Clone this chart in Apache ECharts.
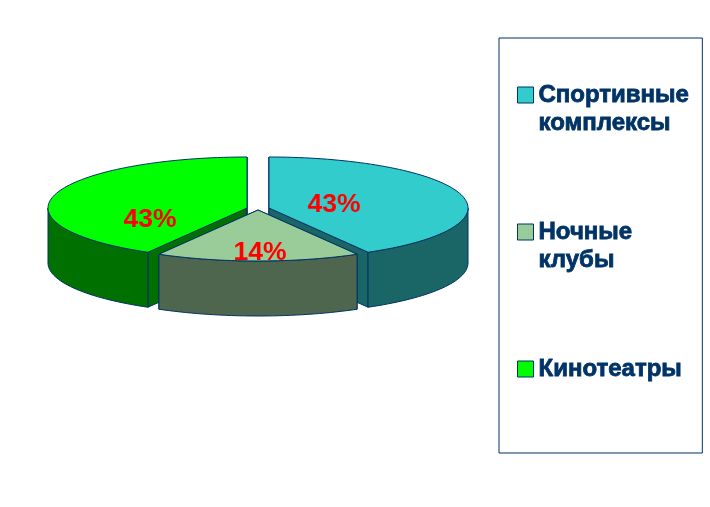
<!DOCTYPE html>
<html>
<head>
<meta charset="utf-8">
<style>
  html, body { margin: 0; padding: 0; background: #fff; }
  #chart { width: 710px; height: 507px; }
</style>
<script src="https://cdn.jsdelivr.net/npm/echarts@6/dist/echarts.min.js"></script>
</head>
<body>
<div id="chart"></div>
<script>
const categories = ['Спортивные\nкомплексы', 'Ночные\nклубы', 'Кинотеатры'];
const shares = [43, 14, 43];
const topColors = ['#33CCCC', '#99CC99', '#00FF00'];
const wallColors = ['#1A6666', '#4D664D', '#007000'];

// pie layout, px
const centers = [[269, 208], [258, 210], [247, 208]];
const labelShift = [[65, -3], [2, 43], [-97, 12]];
const rx = 199, ry = 51, depth = 55;
const perspective = 1.22; // the tilt widens angles near the front, as in the original
const line = '#003366';

const total = shares.reduce((a, b) => a + b, 0);
const toRad = v => v / total * Math.PI * 2;

// projected angle, 0 at 12 o'clock and clockwise
function warp(t) {
  let a = Math.atan2(Math.sin(t) * perspective, Math.cos(t));
  if (a < 0) a += Math.PI * 2;
  if (t >= Math.PI * 2 - 1e-6) a = Math.PI * 2;
  return a;
}

function rimPoint(c, a, dy) {
  return [c[0] + rx * Math.sin(a), c[1] - ry * Math.cos(a) + (dy || 0)];
}

function arcPoints(c, a0, a1, dy) {
  const pts = [];
  const n = Math.max(2, Math.ceil((a1 - a0) / 0.03));
  for (let i = 0; i <= n; i++) pts.push(rimPoint(c, a0 + (a1 - a0) * i / n, dy));
  return pts;
}

function poly(points, fill) {
  return { type: 'polygon', shape: { points }, style: { fill, stroke: line, lineWidth: 1 } };
}

function renderSlice(idx) {
  return function (params, api) {
    const before = shares.slice(0, idx).reduce((a, b) => a + b, 0);
    const a0 = warp(toRad(before));
    const a1 = warp(toRad(before + api.value(0)));
    const c = centers[idx];
    const children = [];

    // cut faces
    [a0, a1].forEach(a => {
      children.push(poly([c, rimPoint(c, a), rimPoint(c, a, depth), [c[0], c[1] + depth]], wallColors[idx]));
    });

    // outer wall, front half only
    const w0 = Math.max(a0, Math.PI / 2), w1 = Math.min(a1, Math.PI * 1.5);
    if (w1 > w0) {
      children.push(poly(arcPoints(c, w0, w1).concat(arcPoints(c, w0, w1, depth).reverse()), wallColors[idx]));
    }

    // top face
    children.push(poly([c].concat(arcPoints(c, a0, a1)), topColors[idx]));

    children.push({
      type: 'text',
      z2: 10,
      style: {
        x: c[0] + labelShift[idx][0],
        y: c[1] + labelShift[idx][1],
        text: api.value(0) + '%',
        fill: '#FF0000',
        font: 'bold 26.5px "Liberation Sans", Arial, sans-serif',
        align: 'center',
        verticalAlign: 'middle'
      }
    });
    return { type: 'group', children };
  };
}

const chart = echarts.init(document.getElementById('chart'));
chart.setOption({
  animation: false,
  backgroundColor: '#fff',
  legend: {
    orient: 'vertical',
    left: 499,
    top: 38,
    padding: [15, 13, 42, 18],
    itemGap: 53,
    itemWidth: 16,
    itemHeight: 16,
    icon: 'rect',
    align: 'left',
    borderColor: line,
    borderWidth: 1,
    selectedMode: false,
    itemStyle: { borderColor: line, borderWidth: 1 },
    data: categories,
    formatter: n => {
      const parts = n.split('\n');
      return ['', parts[0], parts[1] || ''].join('\n');
    },
    textStyle: {
      color: line,
      fontFamily: '"Liberation Sans", Arial, sans-serif',
      fontWeight: 'bold',
      fontSize: 24,
      lineHeight: 28,
      textBorderColor: line,
      textBorderWidth: 0.8
    }
  },
  series: categories.map((name, i) => ({
    type: 'custom',
    name,
    coordinateSystem: 'none',
    z: i === 1 ? 3 : 2,
    silent: true,
    itemStyle: { color: topColors[i] },
    renderItem: renderSlice(i),
    data: [[shares[i]]]
  }))
});
</script>
</body>
</html>
